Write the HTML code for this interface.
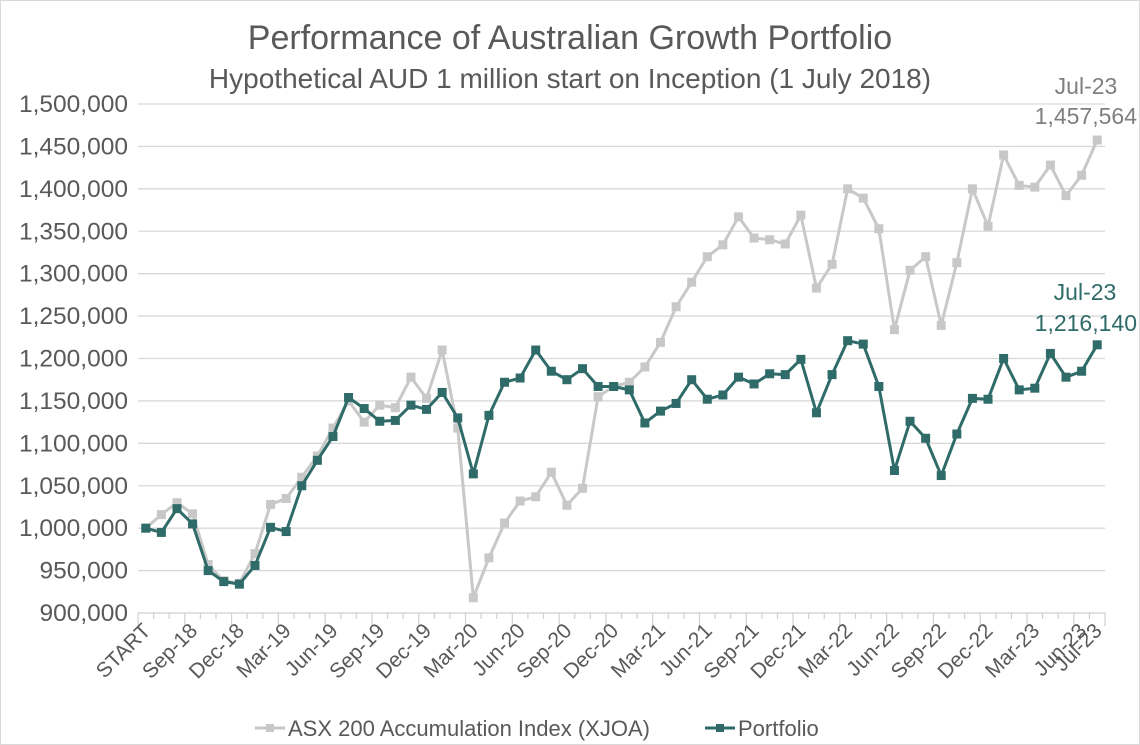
<!DOCTYPE html>
<html><head><meta charset="utf-8"><style>
body{margin:0;background:#fff}
svg{display:block;font-family:"Liberation Sans",sans-serif}
</style></head><body>
<svg id="chart" width="1140" height="745" viewBox="0 0 1140 745">
<rect x="0.5" y="0.5" width="1139" height="744" fill="#fff" stroke="#d9d9d9"/>
<text x="570" y="49" text-anchor="middle" font-size="34" fill="#595959">Performance of Australian Growth Portfolio</text>
<text x="570" y="88" text-anchor="middle" font-size="28" fill="#595959">Hypothetical AUD 1 million start on Inception (1 July 2018)</text>
<g id="grid"></g><g id="axes"></g><g id="series"></g>
<text x="1086" y="94" text-anchor="middle" font-size="23" fill="#7f7f7f">Jul-23</text>
<text x="1137" y="124" text-anchor="end" font-size="23" fill="#7f7f7f">1,457,564</text>
<text x="1085" y="300" text-anchor="middle" font-size="23" fill="#2f6b68">Jul-23</text>
<text x="1137" y="331" text-anchor="end" font-size="23" fill="#2f6b68">1,216,140</text>
<g>
<line x1="255" y1="728" x2="285" y2="728" stroke="#c8c8c8" stroke-width="3"/>
<rect x="266" y="724" width="8" height="8" fill="#c8c8c8"/>
<text x="288" y="736" font-size="22" fill="#595959">ASX 200 Accumulation Index (XJOA)</text>
<line x1="705" y1="728" x2="735" y2="728" stroke="#2f6b68" stroke-width="3"/>
<rect x="716" y="724" width="8" height="8" fill="#2f6b68"/>
<text x="738" y="736" font-size="22" fill="#595959">Portfolio</text>
</g>
</svg>
<script>
const asx=[1000,1016,1030,1017,957,938,935,970,1028,1035,1060,1085,1118,1150,1125,1145,1142,1178,1153,1210,1118,918,965,1006,1032,1037,1066,1027,1047,1155,1167,1172,1190,1219,1261,1290,1320,1334,1367,1342,1340,1335,1369,1283,1311,1400,1389,1353,1234,1304,1320,1239,1313,1400,1356,1440,1404,1402,1428,1392,1416,1457.564];
const portfolio=[1000,995,1023,1005,950,937,934,956,1001,996,1050,1080,1108,1154,1141,1126,1127,1145,1140,1160,1130,1064,1133,1172,1177,1210,1185,1175,1188,1167,1167,1163,1124,1138,1147,1175,1152,1157,1178,1170,1182,1181,1199,1136,1181,1221,1217,1167,1068,1126,1106,1062,1111,1153,1152,1200,1163,1165,1206,1178,1185,1216.14];
const yTicks=[900000,950000,1000000,1050000,1100000,1150000,1200000,1250000,1300000,1350000,1400000,1450000,1500000];
const months=["Jan","Feb","Mar","Apr","May","Jun","Jul","Aug","Sep","Oct","Nov","Dec"];
const categories=["START"];
for(let i=1;i<62;i++){const m=(6+i-1)%12;const y=18+Math.floor((6+i-1)/12);categories.push(months[m]+"-"+y);}
const labelIdx=[0,3,6,9,12,15,18,21,24,27,30,33,36,39,42,45,48,51,54,57,60,61];
const NS="http://www.w3.org/2000/svg";
const L=138,R=1105,T=104,B=613,ymin=900,ymax=1500;
const step=(R-L)/categories.length;
const xs=i=>L+step*(i+0.5);
const ys=v=>B-(v-ymin)/(ymax-ymin)*(B-T);
function mk(t,a,p){const e=document.createElementNS(NS,t);for(const k in a)e.setAttribute(k,a[k]);p.appendChild(e);return e;}
const grid=document.getElementById('grid'),axes=document.getElementById('axes'),ser=document.getElementById('series');
yTicks.forEach(v=>{const y=ys(v/1000);
 const g=mk('line',{x1:L,x2:R,y1:y,y2:y,stroke:v===900000?'#d0d0d0':'#d9d9d9','stroke-width':1.3},grid);
 
 
 const t=mk('text',{x:128,y:y+8,'text-anchor':'end','font-size':24.5,fill:'#595959'},axes);
 t.textContent=v.toLocaleString('en-US');
 
 
});
for(let i=0;i<=categories.length;i++){const x=L+step*i;
 const tk=mk('line',{x1:x,x2:x,y1:B,y2:B+(i%3===0||i===62?13:6),stroke:'#d0d0d0','stroke-width':1.2},axes);
 
 
}
labelIdx.forEach(i=>{const x=xs(i)+6,y=632;
 const t=mk('text',{x:x,y:y,'text-anchor':'end','font-size':21,fill:'#595959',transform:`rotate(-45 ${x} ${y})`},axes);
 t.textContent=categories[i];
 
 
});
function draw(data,color,name){
 const pl=mk('polyline',{points:data.map((v,i)=>xs(i)+','+ys(v)).join(' '),fill:'none',stroke:color,'stroke-width':3,'stroke-linejoin':'round'},ser);
 
 
 data.forEach((v,i)=>{const r=mk('rect',{x:xs(i)-4.5,y:ys(v)-4.5,width:9,height:9,fill:color},ser);
  
  });
}
draw(asx,'#c8c8c8','asx');
draw(portfolio,'#2f6b68','portfolio');
</script>
</body></html>
